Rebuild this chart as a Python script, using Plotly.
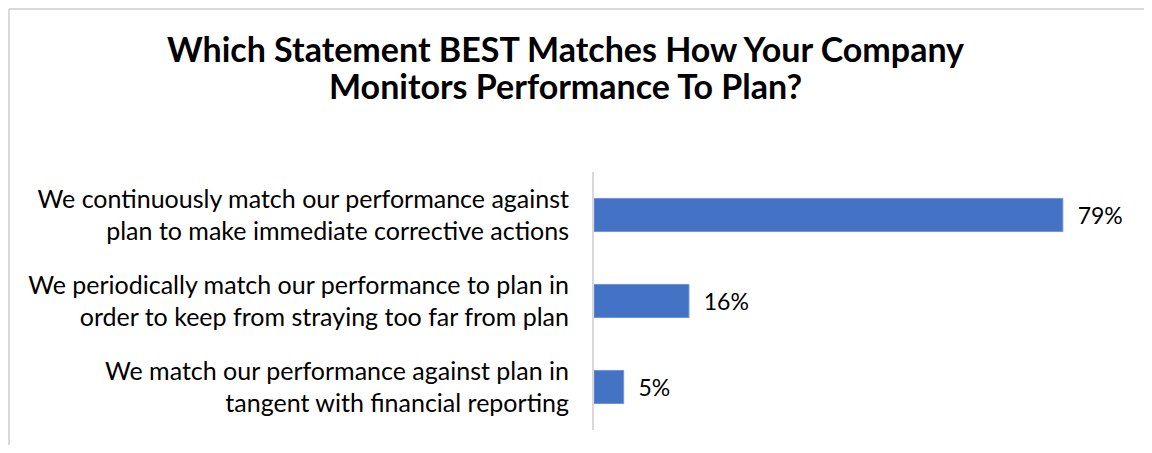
import plotly.graph_objects as go

categories = [
    "We continuously match our performance against<br>plan to make immediate corrective actions",
    "We periodically match our performance to plan in<br>order to keep from straying too far from plan",
    "We match our performance against plan in<br>tangent with financial reporting",
]
values = [0.79, 0.16, 0.05]
value_labels = ["79%", "16%", "5%"]
title_lines = [
    "Which Statement BEST Matches How Your Company",
    "Monitors Performance To Plan?",
]

# page body has an 8px margin, so the figure is drawn 8px in from the window;
# keep it inside the window so no scrollbars show up
fig_w, fig_h = 1136, 437

fig = go.Figure(
    go.Bar(
        x=values,
        y=categories,
        orientation="h",
        marker=dict(color="#4472c4", line=dict(color="#6f93d6", width=1)),
        width=0.385,
        text=value_labels,
        texttemplate="\u00a0\u00a0%{text}",
        textposition="outside",
        textfont=dict(size=23, color="#000000"),
        cliponaxis=False,
    )
)

plot_left, plot_top, plot_w, plot_h = 586, 164, 546, 258

fig.update_layout(
    width=fig_w,
    height=fig_h,
    plot_bgcolor="white",
    paper_bgcolor="white",
    font=dict(family="Lato", size=25, color="#000000"),
    margin=dict(l=plot_left, r=fig_w - plot_left - plot_w, t=plot_top,
                b=fig_h - plot_top - plot_h, autoexpand=False),
    showlegend=False,
    xaxis=dict(range=[0, 0.92], visible=False, automargin=False),
    yaxis=dict(
        autorange="reversed",
        automargin=False,
        showline=True,
        linecolor="#d9d9d9",
        linewidth=2,
        ticks="",
        ticklabelstandoff=18,
        tickfont=dict(size=25),
    ),
)

# title as two lines placed separately to match the tight line spacing
for line, ypix in zip(title_lines, [40, 77]):
    fig.add_annotation(
        text="<b>" + line + "</b>",
        xref="paper", yref="paper",
        x=(557 - plot_left) / plot_w, y=1 + (plot_top - ypix) / plot_h,
        xanchor="center", yanchor="middle",
        showarrow=False,
        font=dict(size=34, family="Lato", color="#000000"),
    )

# outer chart border (left and top edges only, as in the source screenshot)
border = dict(color="#d9d9d9", width=2)
fig.add_shape(
    type="line", xref="paper", yref="paper",
    xsizemode="pixel", ysizemode="pixel", xanchor=0, yanchor=1,
    x0=-plot_left + 1, x1=-plot_left + 1, y0=-400, y1=plot_top - 1,
    line=border, layer="below",
)
fig.add_shape(
    type="line", xref="paper", yref="paper",
    xsizemode="pixel", ysizemode="pixel", xanchor=0, yanchor=1,
    x0=-plot_left + 1, x1=700, y0=plot_top - 1, y1=plot_top - 1,
    line=border, layer="below",
)

fig.write_html("out.html")
